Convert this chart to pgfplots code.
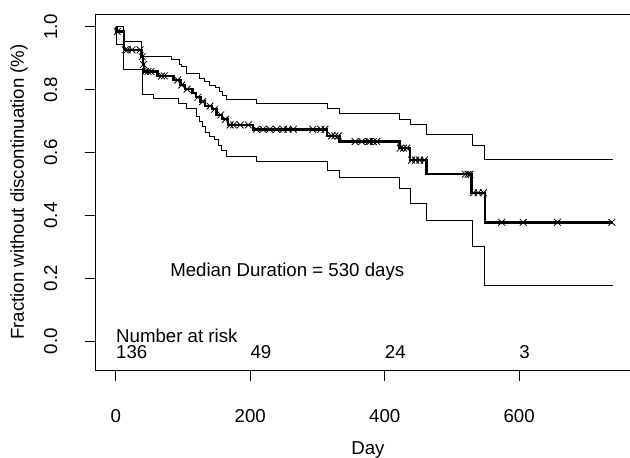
\documentclass[border=0pt]{standalone}
\usepackage{fontspec}
\setmainfont{Liberation Sans}
\usepackage{pgfplots}
\usepackage{pgfplotstable}
\pgfplotsset{compat=1.18}

% Kaplan-Meier estimate (start of each step)
\pgfplotstableread{
day surv
0 1.000
1 0.985
12 0.927
38 0.905
40 0.880
42 0.858
62 0.844
86 0.831
96 0.815
103 0.802
114 0.789
119 0.776
126 0.762
133 0.748
143 0.738
150 0.720
158 0.706
167 0.688
204 0.674
314 0.653
333 0.635
422 0.614
438 0.576
462 0.531
529 0.472
549 0.378
740 0.378
}\kmtab

% censored observations
\pgfplotstableread{
day surv
2 0.985
14 0.927
17 0.927
24 0.927
36 0.927
39 0.905
41 0.880
44 0.858
48 0.858
52 0.858
68 0.844
72 0.844
92 0.831
98 0.815
106 0.802
122 0.776
129 0.762
140 0.748
147 0.738
156 0.720
163 0.706
170 0.688
175 0.688
185 0.688
197 0.688
209 0.674
219 0.674
229 0.674
239 0.674
249 0.674
256 0.674
264 0.674
293 0.674
305 0.674
311 0.674
321 0.653
326 0.653
331 0.653
356 0.635
366 0.635
376 0.635
378 0.635
383 0.635
388 0.635
423 0.614
428 0.614
433 0.614
440 0.576
446 0.576
452 0.576
459 0.576
520 0.531
524 0.531
527 0.531
532 0.472
539 0.472
547 0.472
574 0.378
606 0.378
657 0.378
738 0.378
}\censtab

\pgfplotstableread{
day surv
0 1.000
12 0.955
38 0.906
83 0.895
95 0.879
97 0.874
105 0.852
125 0.837
132 0.826
140 0.815
148 0.806
154 0.794
158 0.783
164 0.768
209 0.757
315 0.741
333 0.725
422 0.704
438 0.688
462 0.656
530 0.622
549 0.579
740 0.579
}\uptab

\pgfplotstableread{
day surv
0 1.000
1 0.943
12 0.863
40 0.785
56 0.771
93 0.757
105 0.740
120 0.714
125 0.700
129 0.683
134 0.664
140 0.650
147 0.640
152 0.624
157 0.605
165 0.587
209 0.571
315 0.543
333 0.520
422 0.486
438 0.438
462 0.385
530 0.302
549 0.178
740 0.178
}\lowtab

\begin{document}
\begin{tikzpicture}[font=\fontsize{14}{16}\selectfont]
\begin{axis}[
  scale only axis,
  width=400.5pt, height=267pt,
  xmin=-29.6, xmax=765, ymin=-0.092, ymax=1.041,
  clip=false,
  axis line style={draw=none},
  xtick={0,200,400,600},
  ytick={0,0.2,0.4,0.6,0.8,1.0},
  xtick pos=bottom, ytick pos=left,
  tick align=outside,
  major tick length=8.5pt,
  every tick/.style={black, line width=0.75pt},
  /pgf/number format/assume math mode=true,
  yticklabel style={xshift=-20.25pt, rotate=90, anchor=south, inner sep=0pt,
    /pgf/number format/.cd, fixed, fixed zerofill, precision=1},
  xticklabel style={anchor=base, yshift=-30.5pt},
  xlabel={Day},
  xlabel style={at={([yshift=-60pt]axis cs:375,-0.092)}, anchor=center},
  ylabel={Fraction without discontinuation (\%)},
  ylabel style={at={([xshift=-57.75pt]rel axis cs:0,0.5)}, anchor=center},
]
\draw[line width=0.75pt] (rel axis cs:1,1) -- (rel axis cs:0,1) -- (rel axis cs:0,0) -- (rel axis cs:1,0);
\coordinate (bl) at (rel axis cs:0,0);
\coordinate (tr) at (rel axis cs:1,1);

\addplot[const plot, black, line width=0.75pt] table[x=day, y=surv] {\uptab};
\addplot[const plot, black, line width=0.75pt] table[x=day, y=surv] {\lowtab};
\addplot[const plot, black, line width=1.8pt] table[x=day, y=surv] {\kmtab};
\addplot[only marks, mark=x, mark size=3.6pt, black, line width=0.6pt] table[x=day, y=surv] {\censtab};

\node[anchor=base] at (axis cs:255,0.204) {Median Duration = 530 days};
\node[anchor=base west, inner sep=0pt] at (axis cs:0,-0.006) {Number at risk};
\node[anchor=base west, inner sep=0pt] at (axis cs:0,-0.054) {136};
\node[anchor=base west, inner sep=0pt] at (axis cs:200,-0.054) {49};
\node[anchor=base west, inner sep=0pt] at (axis cs:400,-0.054) {24};
\node[anchor=base west, inner sep=0pt] at (axis cs:600,-0.054) {3};
\end{axis}
\pgfresetboundingbox
\useasboundingbox ([shift={(-72pt,-66pt)}]bl) rectangle ([shift={(0pt,10.5pt)}]tr);
\end{tikzpicture}
\end{document}
